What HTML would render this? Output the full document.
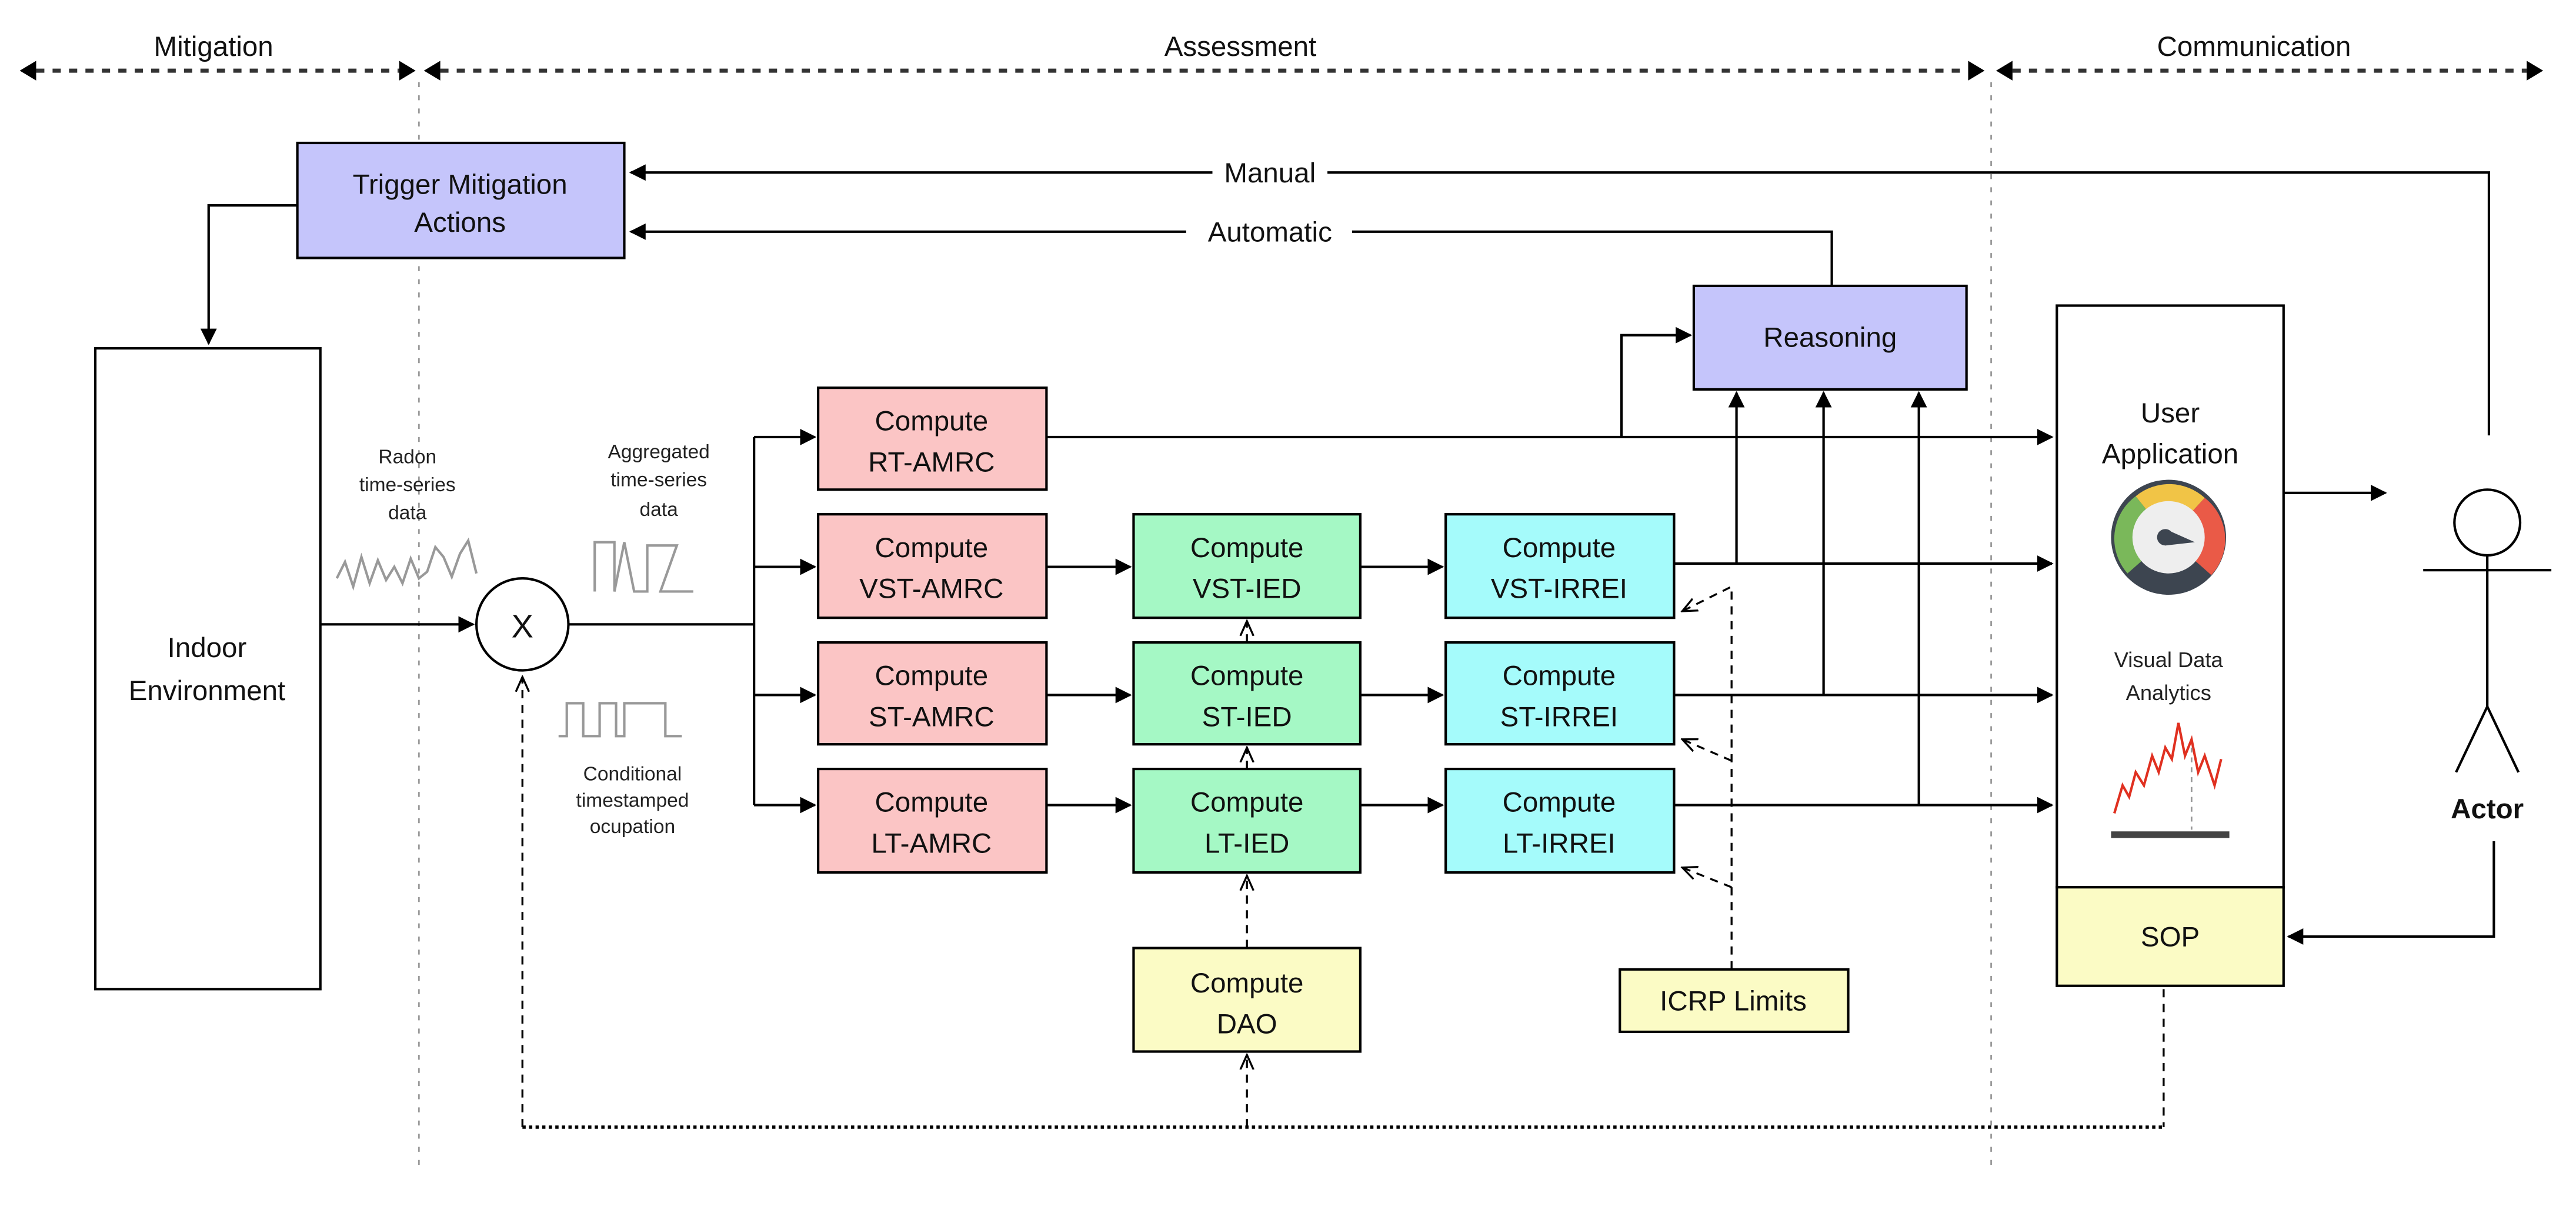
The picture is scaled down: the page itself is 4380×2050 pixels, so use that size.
<!DOCTYPE html>
<html><head><meta charset="utf-8"><style>html,body{margin:0;padding:0;background:#fff}svg{display:block}</style></head>
<body>
<svg width="4380" height="2050" viewBox="0 0 1568 734" preserveAspectRatio="none" xmlns="http://www.w3.org/2000/svg" font-family="Liberation Sans, sans-serif">
<defs>
<marker id="a" markerWidth="10" markerHeight="10" refX="9" refY="5" orient="auto" markerUnits="userSpaceOnUse"><path d="M0,0 L10,5 L0,10 z" fill="#000"/></marker>
<marker id="o" markerWidth="10" markerHeight="10" refX="9" refY="5" orient="auto" markerUnits="userSpaceOnUse"><path d="M0,1 L9,5 L0,9" fill="none" stroke="#000" stroke-width="1.2"/></marker>
</defs>
<g font-size="17" text-anchor="middle" fill="#111">
<text x="130" y="34">Mitigation</text>
<text x="755" y="34">Assessment</text>
<text x="1372" y="34">Communication</text>
</g>
<g stroke="#333" stroke-width="2.5" stroke-dasharray="5,5" fill="none">
<line x1="22" y1="43" x2="243" y2="43"/><line x1="268" y1="43" x2="1198" y2="43"/><line x1="1225" y1="43" x2="1538" y2="43"/>
</g>
<g fill="#000">
<path d="M12,43 l10,-6 v12z"/><path d="M253,43 l-10,-6 v12z"/><path d="M258,43 l10,-6 v12z"/><path d="M1208,43 l-10,-6 v12z"/><path d="M1215,43 l10,-6 v12z"/><path d="M1548,43 l-10,-6 v12z"/>
</g>
<g stroke="#999" stroke-width="1" stroke-dasharray="3,5"><line x1="255" y1="50" x2="255" y2="712"/><line x1="1212" y1="50" x2="1212" y2="712"/></g>

<g stroke="#000" stroke-width="1.5" fill="none">
<!-- manual / automatic -->
<polyline points="1515,265 1515,105 808,105"/><line x1="738" y1="105" x2="384" y2="105" marker-end="url(#a)"/>
<polyline points="1115,175 1115,141 823,141"/><line x1="722" y1="141" x2="384" y2="141" marker-end="url(#a)"/>
<polyline points="181,125 127,125 127,209" marker-end="url(#a)"/>
<line x1="195" y1="380" x2="288" y2="380" marker-end="url(#a)"/>
<polyline points="346,380 459,380"/>
<line x1="459" y1="266" x2="459" y2="490"/>
<line x1="459" y1="266" x2="496" y2="266" marker-end="url(#a)"/>
<line x1="459" y1="345" x2="496" y2="345" marker-end="url(#a)"/>
<line x1="459" y1="423" x2="496" y2="423" marker-end="url(#a)"/>
<line x1="459" y1="490" x2="496" y2="490" marker-end="url(#a)"/>
<line x1="637" y1="345" x2="688" y2="345" marker-end="url(#a)"/>
<line x1="637" y1="423" x2="688" y2="423" marker-end="url(#a)"/>
<line x1="637" y1="490" x2="688" y2="490" marker-end="url(#a)"/>
<line x1="828" y1="345" x2="878" y2="345" marker-end="url(#a)"/>
<line x1="828" y1="423" x2="878" y2="423" marker-end="url(#a)"/>
<line x1="828" y1="490" x2="878" y2="490" marker-end="url(#a)"/>
<line x1="637" y1="266" x2="1249" y2="266" marker-end="url(#a)"/>
<polyline points="987,266 987,204 1029,204" marker-end="url(#a)"/>
<line x1="1019" y1="343" x2="1249" y2="343" marker-end="url(#a)"/>
<line x1="1019" y1="423" x2="1249" y2="423" marker-end="url(#a)"/>
<line x1="1019" y1="490" x2="1249" y2="490" marker-end="url(#a)"/>
<line x1="1057" y1="343" x2="1057" y2="239" marker-end="url(#a)"/>
<line x1="1110" y1="423" x2="1110" y2="239" marker-end="url(#a)"/>
<line x1="1168" y1="490" x2="1168" y2="239" marker-end="url(#a)"/>
<line x1="1390" y1="300" x2="1452" y2="300" marker-end="url(#a)"/>
<polyline points="1518,512 1518,570 1393,570" marker-end="url(#a)"/>
</g>
<g stroke="#000" stroke-width="1.2" fill="none" stroke-dasharray="5,4">
<line x1="759" y1="577" x2="759" y2="533" marker-end="url(#o)"/>
<line x1="759" y1="468" x2="759" y2="455" marker-end="url(#o)"/>
<line x1="759" y1="391" x2="759" y2="378" marker-end="url(#o)"/>
<line x1="759" y1="686" x2="759" y2="642" marker-end="url(#o)"/>
<line x1="318" y1="686" x2="318" y2="412" marker-end="url(#o)"/>
<polyline points="1054,590 1054,357 1024,372" marker-end="url(#o)"/>
<line x1="1054" y1="463" x2="1024" y2="450" marker-end="url(#o)"/>
<line x1="1054" y1="540" x2="1024" y2="528" marker-end="url(#o)"/>
<line x1="1317" y1="602" x2="1317" y2="686"/>
</g>
<line x1="318" y1="686" x2="1317" y2="686" stroke="#000" stroke-width="2" stroke-dasharray="2,2"/>

<g stroke="#000" stroke-width="1.5">
<rect x="181" y="87" width="199" height="70" fill="#c5c5fb"/>
<rect x="58" y="212" width="137" height="390" fill="#fff"/>
<circle cx="318" cy="380" r="28" fill="#fff"/>
<rect x="498" y="236" width="139" height="62" fill="#fbc5c5"/>
<rect x="498" y="313" width="139" height="63" fill="#fbc5c5"/>
<rect x="498" y="391" width="139" height="62" fill="#fbc5c5"/>
<rect x="498" y="468" width="139" height="63" fill="#fbc5c5"/>
<rect x="690" y="313" width="138" height="63" fill="#a5f8c5"/>
<rect x="690" y="391" width="138" height="62" fill="#a5f8c5"/>
<rect x="690" y="468" width="138" height="63" fill="#a5f8c5"/>
<rect x="880" y="313" width="139" height="63" fill="#a5fbfb"/>
<rect x="880" y="391" width="139" height="62" fill="#a5fbfb"/>
<rect x="880" y="468" width="139" height="63" fill="#a5fbfb"/>
<rect x="690" y="577" width="138" height="63" fill="#fbfbc5"/>
<rect x="986" y="590" width="139" height="38" fill="#fbfbc5"/>
<rect x="1031" y="174" width="166" height="63" fill="#c5c5fb"/>
<rect x="1252" y="186" width="138" height="354" fill="#fff"/>
<rect x="1252" y="540" width="138" height="60" fill="#fbfbc5"/>
</g>
<g font-size="17" text-anchor="middle" fill="#111">
<text x="280" y="118">Trigger Mitigation</text><text x="280" y="141">Actions</text>
<text x="126" y="400">Indoor</text><text x="126" y="426">Environment</text>
<text x="318" y="388" font-size="20">X</text>
<text x="567" y="262">Compute</text><text x="567" y="287">RT-AMRC</text>
<text x="567" y="339">Compute</text><text x="567" y="364">VST-AMRC</text>
<text x="567" y="417">Compute</text><text x="567" y="442">ST-AMRC</text>
<text x="567" y="494">Compute</text><text x="567" y="519">LT-AMRC</text>
<text x="759" y="339">Compute</text><text x="759" y="364">VST-IED</text>
<text x="759" y="417">Compute</text><text x="759" y="442">ST-IED</text>
<text x="759" y="494">Compute</text><text x="759" y="519">LT-IED</text>
<text x="949" y="339">Compute</text><text x="949" y="364">VST-IRREI</text>
<text x="949" y="417">Compute</text><text x="949" y="442">ST-IRREI</text>
<text x="949" y="494">Compute</text><text x="949" y="519">LT-IRREI</text>
<text x="759" y="604">Compute</text><text x="759" y="629">DAO</text>
<text x="1055" y="615">ICRP Limits</text>
<text x="1114" y="211">Reasoning</text>
<text x="1321" y="257">User</text><text x="1321" y="282">Application</text>
<text x="1321" y="576">SOP</text>
<text x="773" y="111">Manual</text>
<text x="773" y="147">Automatic</text>
<text x="1514" y="498" font-weight="bold">Actor</text>
</g>
<g font-size="12" text-anchor="middle" fill="#222">
<text x="248" y="282">Radon</text><text x="248" y="299">time-series</text><text x="248" y="316">data</text>
<text x="401" y="279">Aggregated</text><text x="401" y="296">time-series</text><text x="401" y="314">data</text>
<text x="385" y="475">Conditional</text><text x="385" y="491">timestamped</text><text x="385" y="507">ocupation</text>
<text x="1320" y="406" font-size="13">Visual Data</text><text x="1320" y="426" font-size="13">Analytics</text>
</g>
<g fill="none" stroke="#999" stroke-width="1.5">
<path d="M205,352 l5,-10 l5,15 l5,-18 l5,16 l5,-14 l5,12 l5,-8 l5,10 l5,-15 l5,12 l5,-4 l5,-15 l5,6 l5,12 l5,-14 l5,-8 l5,20"/>
<path d="M362,360 v-30 h12 v30 l6,-30 l6,30 h8 v-28 h18 l-10,28 h20"/>
<path d="M340,448 h5 v-20 h10 v20 h10 v-20 h10 v20 h5 v-20 h25 v20 h10"/>
</g>
<!-- gauge -->
<circle cx="1320" cy="327" r="35" fill="#3d4550"/>
<path d="M1320,327 L1295,349 A32,32 0 0,1 1300,302 Z" fill="#7ab85a"/>
<path d="M1320,327 L1300,302 A32,32 0 0,1 1342,303 Z" fill="#f1c446"/>
<path d="M1320,327 L1342,303 A32,32 0 0,1 1346,350 Z" fill="#ea5a47"/>
<circle cx="1320" cy="327" r="22" fill="#eee"/>
<path d="M1318,322 L1336,330 L1318,332 Z" fill="#3d4550"/><circle cx="1318" cy="327" r="5" fill="#3d4550"/>
<!-- chart -->
<polyline points="1287,495 1292,478 1296,485 1300,470 1305,478 1310,460 1314,470 1318,455 1322,462 1326,440 1330,460 1334,450 1338,470 1342,460 1348,478 1352,462" fill="none" stroke="#e03020" stroke-width="1.5"/>
<line x1="1334" y1="455" x2="1334" y2="505" stroke="#999" stroke-dasharray="3,3"/>
<rect x="1285" y="506" width="72" height="4" fill="#444"/>
<!-- actor -->
<g stroke="#000" stroke-width="1.5" fill="none">
<circle cx="1514" cy="318" r="20" fill="#fff"/>
<line x1="1514" y1="338" x2="1514" y2="430"/><line x1="1475" y1="347" x2="1553" y2="347"/>
<polyline points="1495,470 1514,430 1533,470"/>
</g>
</svg>
</body></html>
